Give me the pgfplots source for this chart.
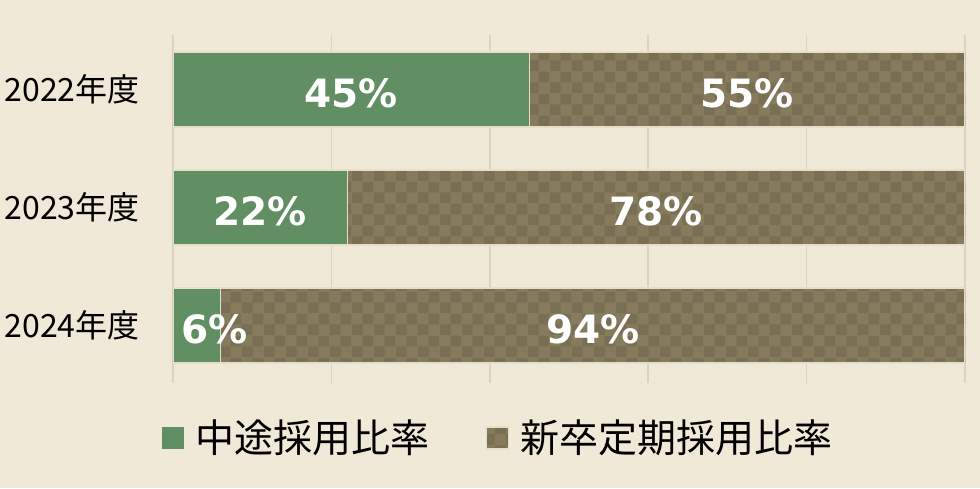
\documentclass[border=0pt]{standalone}
\usepackage{fontspec}
\setmainfont{DejaVu Sans}
\newfontfamily\jp{Noto Sans CJK JP}
\usepackage{pgfplots}
\pgfplotsset{compat=1.18}
\usetikzlibrary{patterns,backgrounds}

\definecolor{bg}{RGB}{240,233,216}
\definecolor{midgreen}{RGB}{98,142,100}
\definecolor{chkA}{RGB}{134,123,93}
\definecolor{chkB}{RGB}{121,111,84}
\definecolor{gridc}{RGB}{218,210,194}
\definecolor{edge}{RGB}{230,222,200}

% large checker squares for the second series
\pgfdeclarepatternformonly{bigcheck}{\pgfpointorigin}{\pgfqpoint{11pt}{11pt}}{\pgfqpoint{11pt}{11pt}}{%
  \pgfpathrectangle{\pgfpointorigin}{\pgfqpoint{5.5pt}{5.5pt}}%
  \pgfpathrectangle{\pgfqpoint{5.5pt}{5.5pt}}{\pgfqpoint{5.5pt}{5.5pt}}%
  \pgfusepath{fill}}

\begin{document}
\begin{tikzpicture}
  \pgfplotsset{
    common/.style={
      width=396pt, height=174pt, scale only axis,
      xmin=0, xmax=100, ymin=-0.487, ymax=2.462,
    },
  }
  \begin{axis}[
    common,
    xbar stacked,
    bar width=37.5pt,
    xtick={0,20,...,100}, xticklabels={},
    xmajorgrids, grid style={gridc, line width=0.75pt},
    ytick={0,1,2},
    yticklabels={2024年度,2023年度,2022年度},
    yticklabel style={font=\jp\fontsize{16}{19}\selectfont, inner sep=0pt, xshift=-16.5pt},
    axis line style={draw=none},
    tick style={draw=none},
    legend style={at={(0.412,-0.158)}, anchor=center, draw=none, fill=none,
      font=\jp\fontsize{19.5}{22}\selectfont, legend columns=2,
      /tikz/every odd column/.append style={column sep=4pt},
      /tikz/every even column/.append style={column sep=26pt}},
    legend image code/.code={\draw[#1, draw=none] (0pt,-5.5pt) rectangle (11pt,5.5pt);},
  ]
    \addplot [fill=midgreen, draw=edge, line width=0.6pt]
      coordinates {(6,0) (22,1) (45,2)};
    \addplot [fill=chkA, draw=edge, line width=0.6pt,
      postaction={pattern=bigcheck, pattern color=chkB}]
      coordinates {(94,0) (78,1) (55,2)};
    \legend{中途採用比率, 新卒定期採用比率}
    \coordinate (O) at (rel axis cs:0,0);
  \end{axis}
  \begin{axis}[
    common,
    hide axis,
    nodes near coords,
    point meta=explicit symbolic,
    every node near coord/.append style={anchor=center, text=white, yshift=-2pt,
      font=\bfseries\fontsize{19.5}{22}\selectfont},
  ]
    \addplot [only marks, mark=none] coordinates {
      (22.5,2) [45\%]
      (72.5,2) [55\%]
      (11,1) [22\%]
      (61,1) [78\%]
      (5.2,0) [6\%]
      (53,0) [94\%]
    };
  \end{axis}
  \begin{scope}[on background layer]
    \fill[bg] ([shift={(-86.5pt,-52.5pt)}]O) rectangle ([shift={(403.5pt,191.5pt)}]O);
  \end{scope}
  \pgfresetboundingbox
  \path[use as bounding box] ([shift={(-86.5pt,-52.5pt)}]O) rectangle ([shift={(403.5pt,191.5pt)}]O);
\end{tikzpicture}
\end{document}
